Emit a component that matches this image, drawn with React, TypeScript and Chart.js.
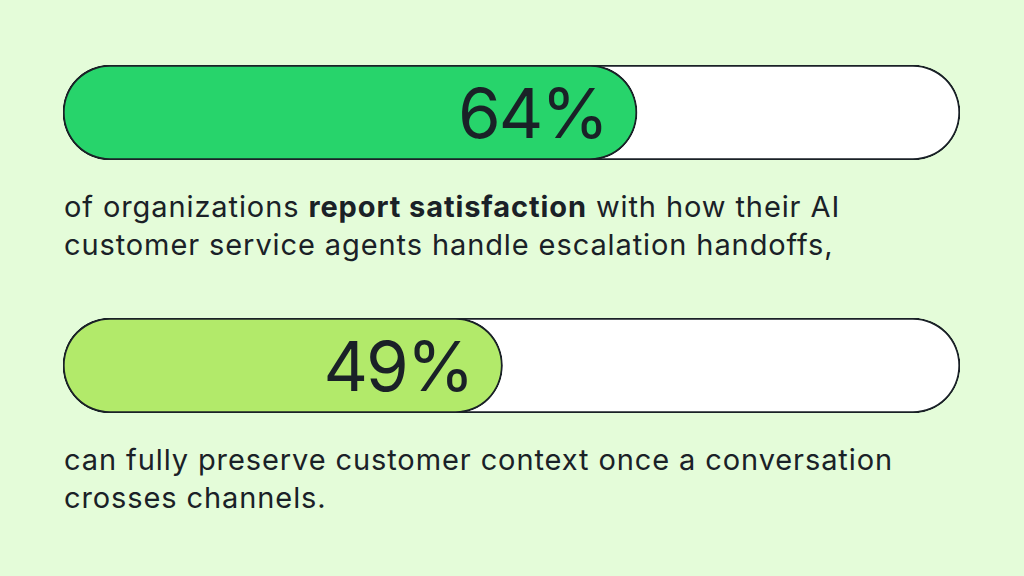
import { useEffect, useRef } from 'react';
import { Chart, registerables } from 'chart.js';

Chart.register(...registerables);

// values
const categories = ['Satisfied with escalation handoffs', 'Preserve context across channels'];
const shares = [64, 49];
const trackMax = 100;
const fillColors = ['#27d46b', '#b2ea6a'];

const INK = '#1a2127';
const BG = '#e4fcd9';

const valueLabel = {
  id: 'valueLabel',
  afterDatasetsDraw(chart: any) {
    const bar = chart.getDatasetMeta(0).data[0];
    if (!bar) return;
    const { ctx } = chart;
    const v = chart.data.datasets[0].data[0];
    ctx.save();
    ctx.fillStyle = INK;
    ctx.font = '400 69px Inter';
    if ('letterSpacing' in ctx) ctx.letterSpacing = '-2px';
    ctx.textAlign = 'right';
    ctx.textBaseline = 'alphabetic';
    ctx.fillText(`${v}%`, bar.x - 30, bar.y + 25);
    ctx.restore();
  }
};

function ProgressRow({ index }: { index: number }) {
  const ref = useRef<HTMLCanvasElement | null>(null);

  useEffect(() => {
    if (!ref.current) return;
    const chart = new Chart(ref.current, {
      type: 'bar',
      data: {
        labels: [categories[index]],
        datasets: [
          {
            data: [shares[index]],
            backgroundColor: fillColors[index],
            borderColor: INK,
            borderWidth: 2,
            borderRadius: 999,
            borderSkipped: false,
            grouped: false
          },
          {
            data: [trackMax],
            backgroundColor: '#ffffff',
            borderColor: INK,
            borderWidth: 2,
            borderRadius: 999,
            borderSkipped: false,
            grouped: false
          }
        ]
      },
      options: {
        indexAxis: 'y',
        animation: false,
        responsive: true,
        maintainAspectRatio: false,
        layout: { padding: { left: 63, right: 64, top: 0, bottom: 0 } },
        datasets: { bar: { barPercentage: 1, categoryPercentage: 1 } },
        scales: {
          x: { display: false, min: 0, max: trackMax },
          y: { display: false }
        },
        plugins: { legend: { display: false }, tooltip: { enabled: false } }
      },
      plugins: [valueLabel]
    });
    return () => chart.destroy();
  }, [index]);

  return <canvas ref={ref} aria-label={categories[index]} />;
}

const textStyle: React.CSSProperties = {
  position: 'absolute',
  left: 64,
  margin: 0,
  fontFamily: 'Inter, sans-serif',
  fontSize: 29,
  lineHeight: '38px',
  color: INK,
  letterSpacing: '0.9px',
  whiteSpace: 'nowrap'
};

export default function App() {
  useEffect(() => {
    document.body.style.margin = '0';
  }, []);

  return (
    <div style={{ position: 'relative', width: 1024, height: 576, background: BG, overflow: 'hidden' }}>
      <div style={{ position: 'absolute', left: 0, top: 65, width: 1024, height: 95 }}>
        <ProgressRow index={0} />
      </div>
      <p style={{ ...textStyle, top: 188 }}>
        of organizations <b style={{ fontWeight: 700 }}>report satisfaction</b> with how their AI
        <br />
        customer service agents handle escalation handoffs,
      </p>
      <div style={{ position: 'absolute', left: 0, top: 318, width: 1024, height: 95 }}>
        <ProgressRow index={1} />
      </div>
      <p style={{ ...textStyle, top: 441 }}>
        can fully preserve customer context once a conversation
        <br />
        crosses channels.
      </p>
    </div>
  );
}
